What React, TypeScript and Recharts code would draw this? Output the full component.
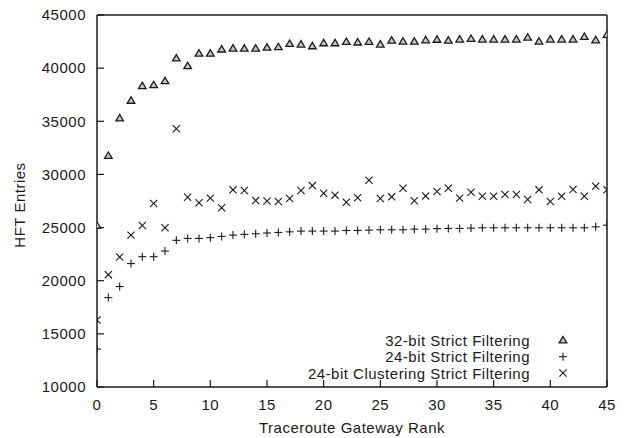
import React from 'react';
import { ScatterChart, Scatter, XAxis, YAxis, ReferenceLine, Legend, Label } from 'recharts';

const ranks = Array.from({ length: 46 }, (_, i) => i);
const xTicks = [0, 5, 10, 15, 20, 25, 30, 35, 40, 45];
const yTicks = [10000, 15000, 20000, 25000, 30000, 35000, 40000, 45000];

const strict32 = [
  25200, 31770, 35300, 36960, 38340, 38430, 38800, 40940, 40220, 41400,
  41400, 41780, 41870, 41870, 41870, 41950, 42000, 42310, 42250, 42090,
  42370, 42370, 42500, 42440, 42500, 42250, 42620, 42530, 42530, 42650,
  42700, 42620, 42720, 42780, 42720, 42720, 42720, 42720, 42900, 42530,
  42720, 42720, 42720, 42970, 42650, 43150,
];
const strict24 = [
  13570, 18410, 19450, 21610, 22260, 22260, 22790, 23800, 23980, 23980,
  24050, 24170, 24290, 24360, 24420, 24490, 24540, 24600, 24670, 24670,
  24670, 24670, 24730, 24730, 24760, 24790, 24790, 24790, 24850, 24850,
  24900, 24920, 24920, 24950, 24980, 24980, 24980, 24980, 24980, 24980,
  24980, 24980, 24980, 24980, 25070, 25220,
];
const cluster24 = [
  16300, 20570, 22230, 24290, 25200, 27270, 24980, 34300, 27860, 27330,
  27770, 26860, 28550, 28490, 27550, 27500, 27450, 27730, 28480, 28950,
  28230, 28050, 27390, 27800, 29450, 27730, 27890, 28700, 27520, 27980,
  28390, 28700, 27770, 28320, 27950, 27950, 28110, 28110, 27640, 28550,
  27450, 27950, 28580, 27950, 28890, 28550,
];
const seriesNames = [
  '32-bit Strict Filtering',
  '24-bit Strict Filtering',
  '24-bit Clustering Strict Filtering',
];

const toPoints = (vals: number[]) => ranks.map((r, i) => ({ x: r, y: vals[i] }));

const FONT = '"Liberation Sans", Arial, Helvetica, sans-serif';
const INK = '#1a1a1a';

const Tri = ({ cx, cy }: any) => (
  <polygon
    points={`${cx},${cy - 3.6} ${cx - 3.8},${cy + 2.8} ${cx + 3.8},${cy + 2.8}`}
    fill="#c8c8c8"
    stroke={INK}
    strokeWidth={1.3}
  />
);
const Plus = ({ cx, cy }: any) => (
  <g stroke={INK} strokeWidth={1.1}>
    <line x1={cx - 4} y1={cy} x2={cx + 4} y2={cy} />
    <line x1={cx} y1={cy - 4} x2={cx} y2={cy + 4} />
  </g>
);
const Cross = ({ cx, cy }: any) => (
  <g stroke={INK} strokeWidth={1.1}>
    <line x1={cx - 3.6} y1={cy - 3.6} x2={cx + 3.6} y2={cy + 3.6} />
    <line x1={cx - 3.6} y1={cy + 3.6} x2={cx + 3.6} y2={cy - 3.6} />
  </g>
);
const shapes = [Tri, Plus, Cross];

const LegendBox = () => {
  const left = 270;
  const textEnd = 522 - left;
  const symX = 555 - left;
  const rows = [332 - 320, 348.7 - 320, 365 - 320];
  return (
    <svg width={300} height={60} style={{ overflow: 'visible', display: 'block' }}>
      {seriesNames.map((n, i) => {
        const S = shapes[i];
        return (
          <g key={n}>
            <text
              x={textEnd}
              y={rows[i]}
              textAnchor="end"
              dominantBaseline="central"
              fontFamily={FONT}
              fontSize={15}
              letterSpacing={0.5}
              fill={INK}
            >
              {n}
            </text>
            <S cx={symX} cy={rows[i]} />
          </g>
        );
      })}
    </svg>
  );
};

const YTitle = (props: any) => {
  const vb = props.viewBox || { x: 0, y: 7, width: 89, height: 372 };
  const x = 11;
  const y = vb.y + vb.height / 2 + 4;
  return (
    <text
      x={x}
      y={y}
      transform={`rotate(-90, ${x}, ${y})`}
      textAnchor="middle"
      dominantBaseline="central"
      fontFamily={FONT}
      fontSize={15}
      letterSpacing={0.5}
      fill={INK}
    >
      HFT Entries
    </text>
  );
};

export default function App() {
  const tickStyle = { fontFamily: FONT, fontSize: 15, fill: INK, letterSpacing: 0.5 };
  return (
    <div>
      <style>{`svg.recharts-surface { overflow: visible; }`}</style>
      <ScatterChart width={616} height={430} margin={{ top: 7, right: 17, left: 0, bottom: 0 }}>
        <XAxis
          type="number"
          dataKey="x"
          domain={[0, 45]}
          ticks={xTicks}
          interval={0}
          allowDataOverflow
          height={51}
          tickSize={-7}
          tickMargin={19}
          tick={tickStyle}
          axisLine={{ stroke: INK, strokeWidth: 1.5 }}
          tickLine={{ stroke: INK, strokeWidth: 1.2 }}
        >
          <Label
            value="Traceroute Gateway Rank"
            position="insideBottom"
            offset={5}
            style={{ fontFamily: FONT, fontSize: 15, fill: INK, letterSpacing: 0.5 }}
          />
        </XAxis>
        <YAxis
          type="number"
          dataKey="y"
          domain={[10000, 45000]}
          ticks={yTicks}
          interval={0}
          allowDataOverflow
          width={89}
          tickSize={-7}
          tickMargin={18}
          tick={tickStyle}
          axisLine={{ stroke: INK, strokeWidth: 1.5 }}
          tickLine={{ stroke: INK, strokeWidth: 1.2 }}
          label={<YTitle />}
        />
        <ReferenceLine y={45000} stroke={INK} strokeWidth={1.5} />
        <ReferenceLine x={45} stroke={INK} strokeWidth={1.5} />
        <Scatter name={seriesNames[0]} data={toPoints(strict32)} shape={<Tri />} isAnimationActive={false} />
        <Scatter name={seriesNames[1]} data={toPoints(strict24)} shape={<Plus />} isAnimationActive={false} />
        <Scatter name={seriesNames[2]} data={toPoints(cluster24)} shape={<Cross />} isAnimationActive={false} />
        <Legend
          layout="vertical"
          align="center"
          verticalAlign="middle"
          content={<LegendBox />}
          wrapperStyle={{ left: 270, top: 320, width: 300, height: 60 }}
        />
      </ScatterChart>
    </div>
  );
}
